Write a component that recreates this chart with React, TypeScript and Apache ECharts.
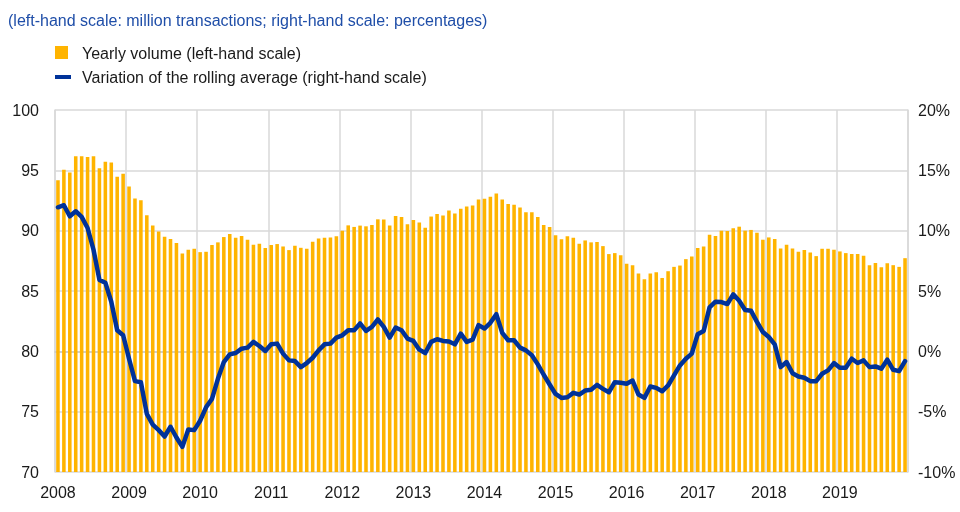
import React, { useEffect, useRef } from "react";
import * as echarts from "echarts";

const years = ["2008", "2009", "2010", "2011", "2012", "2013", "2014", "2015", "2016", "2017", "2018", "2019"];
const months = ["01", "02", "03", "04", "05", "06", "07", "08", "09", "10", "11", "12"];

// Yearly volume (left-hand scale, million transactions), monthly observations
const vol2008 = [94.17, 95.05, 94.83, 96.17, 96.17, 96.1, 96.17, 95.17, 95.72, 95.64, 94.47, 94.72];
const vol2009 = [93.67, 92.67, 92.53, 91.28, 90.42, 89.94, 89.5, 89.3, 88.97, 88.11, 88.42, 88.5];
const vol2010 = [88.22, 88.25, 88.81, 89.03, 89.47, 89.72, 89.42, 89.56, 89.25, 88.83, 88.92, 88.56];
const vol2011 = [88.81, 88.89, 88.69, 88.39, 88.75, 88.58, 88.5, 89.08, 89.36, 89.42, 89.44, 89.53];
const vol2012 = [90.0, 90.44, 90.31, 90.42, 90.36, 90.47, 90.94, 90.92, 90.42, 91.22, 91.14, 90.53];
const vol2013 = [90.89, 90.67, 90.25, 91.17, 91.39, 91.25, 91.67, 91.42, 91.81, 92.0, 92.08, 92.58];
const vol2014 = [92.64, 92.81, 93.08, 92.58, 92.22, 92.14, 91.92, 91.53, 91.53, 91.14, 90.47, 90.31];
const vol2015 = [89.61, 89.28, 89.53, 89.42, 88.92, 89.19, 89.03, 89.06, 88.72, 88.06, 88.14, 87.97];
const vol2016 = [87.25, 87.14, 86.44, 85.97, 86.44, 86.56, 86.08, 86.64, 87.0, 87.11, 87.64, 87.86];
const vol2017 = [88.56, 88.69, 89.67, 89.56, 90.0, 89.97, 90.19, 90.33, 90.0, 90.06, 89.83, 89.25];
const vol2018 = [89.44, 89.31, 88.53, 88.83, 88.53, 88.25, 88.39, 88.19, 87.89, 88.5, 88.5, 88.42];
const vol2019 = [88.28, 88.14, 88.06, 88.06, 87.92, 87.14, 87.33, 86.97, 87.31, 87.14, 87.0, 87.72];

// Variation of the rolling average (right-hand scale, percentages)
const var2008 = [11.94, 12.11, 11.19, 11.61, 11.14, 10.22, 8.42, 5.92, 5.69, 4.11, 1.75, 1.33];
const var2009 = [-0.61, -2.47, -2.56, -5.19, -6.08, -6.53, -7.06, -6.25, -7.14, -7.92, -6.47, -6.53];
const var2010 = [-5.75, -4.64, -3.94, -2.28, -0.89, -0.25, -0.14, 0.22, 0.31, 0.78, 0.44, 0.03];
const var2011 = [0.58, 0.64, -0.19, -0.75, -0.81, -1.31, -0.97, -0.53, 0.08, 0.58, 0.64, 1.14];
const var2012 = [1.33, 1.75, 1.75, 2.31, 1.69, 2.03, 2.64, 2.03, 1.14, 1.97, 1.75, 1.06];
const var2013 = [0.86, 0.14, -0.14, 0.78, 1.0, 0.86, 0.81, 0.58, 1.47, 0.78, 0.97, 2.17];
const var2014 = [1.89, 2.36, 3.08, 1.53, 0.92, 0.92, 0.31, 0.08, -0.33, -1.08, -1.94, -2.75];
const var2015 = [-3.53, -3.86, -3.81, -3.44, -3.58, -3.25, -3.19, -2.78, -3.11, -3.39, -2.56, -2.61];
const var2016 = [-2.69, -2.42, -3.58, -3.86, -2.92, -3.03, -3.31, -2.83, -2.0, -1.17, -0.61, -0.19];
const var2017 = [1.42, 1.69, 3.64, 4.11, 4.08, 3.92, 4.72, 4.19, 3.42, 3.36, 2.44, 1.6];
const var2018 = [1.19, 0.58, -1.31, -0.89, -1.81, -2.08, -2.19, -2.47, -2.47, -1.86, -1.58, -0.97];
const var2019 = [-1.36, -1.36, -0.61, -0.97, -0.75, -1.31, -1.25, -1.44, -0.69, -1.53, -1.64, -0.81];

const leftTicks = { min: 70, max: 100, interval: 5 };
const rightTicks = { min: -10, max: 20, interval: 5 };

const subtitle = "(left-hand scale: million transactions; right-hand scale: percentages)";
const barName = "Yearly volume (left-hand scale)";
const lineName = "Variation of the rolling average (right-hand scale)";

const categories = years.flatMap((y) => months.map((m) => `${y}-${m}`));
const volume = [
  ...vol2008, ...vol2009, ...vol2010, ...vol2011, ...vol2012, ...vol2013,
  ...vol2014, ...vol2015, ...vol2016, ...vol2017, ...vol2018, ...vol2019,
];
const variation = [
  ...var2008, ...var2009, ...var2010, ...var2011, ...var2012, ...var2013,
  ...var2014, ...var2015, ...var2016, ...var2017, ...var2018, ...var2019,
];

const FONT = "'Liberation Sans', Arial, sans-serif";
const YELLOW = "#FFB400";
const BLUE = "#003299";
const GRID = "#d9d9d9";
const TEXT = "#1a1a1a";

export default function App() {
  const ref = useRef<HTMLDivElement>(null);
  useEffect(() => {
    if (!ref.current) return;
    const chart = echarts.init(ref.current, undefined, { renderer: "svg" });
    chart.setOption({
      animation: false,
      textStyle: { fontFamily: FONT },
      grid: { left: 55, right: 52, top: 110, bottom: 40, containLabel: false },
      graphic: [
        {
          type: "text",
          x: 8,
          y: 20,
          style: { text: subtitle, fill: "#1f4ea8", font: `16px ${FONT}`, verticalAlign: "middle" },
        },
        { type: "rect", shape: { x: 55, y: 46, width: 13, height: 13 }, style: { fill: YELLOW } },
        {
          type: "text",
          x: 82,
          y: 53,
          style: { text: barName, fill: TEXT, font: `16px ${FONT}`, verticalAlign: "middle" },
        },
        { type: "rect", shape: { x: 55, y: 75, width: 16, height: 4 }, style: { fill: BLUE } },
        {
          type: "text",
          x: 82,
          y: 77,
          style: { text: lineName, fill: TEXT, font: `16px ${FONT}`, verticalAlign: "middle" },
        },
      ],
      xAxis: {
        type: "category",
        data: categories,
        boundaryGap: true,
        axisLine: { show: true, lineStyle: { color: "#c8c8c8", width: 1.5 } },
        axisTick: { show: false },
        axisLabel: {
          interval: 11,
          formatter: (v: string) => v.slice(0, 4),
          color: TEXT,
          fontSize: 16,
          fontFamily: FONT,
          margin: 12,
        },
        splitLine: {
          show: true,
          interval: (i: number) => i % 12 === 0,
          lineStyle: { color: GRID, width: 1.5 },
        },
      },
      yAxis: [
        {
          type: "value",
          ...leftTicks,
          axisLine: { show: true, lineStyle: { color: GRID, width: 1.5 } },
          axisTick: { show: false },
          axisLabel: { color: TEXT, fontSize: 16, fontFamily: FONT, margin: 16 },
          splitLine: { show: true, lineStyle: { color: GRID, width: 1.5 } },
        },
        {
          type: "value",
          ...rightTicks,
          position: "right",
          axisLine: { show: true, lineStyle: { color: GRID, width: 1.5 } },
          axisTick: { show: false },
          axisLabel: {
            color: TEXT,
            fontSize: 16,
            fontFamily: FONT,
            margin: 10,
            formatter: "{value}%",
          },
          splitLine: { show: false },
        },
      ],
      series: [
        {
          name: barName,
          type: "bar",
          data: volume,
          yAxisIndex: 0,
          barCategoryGap: "40%",
          itemStyle: { color: YELLOW },
        },
        {
          name: lineName,
          type: "line",
          data: variation,
          yAxisIndex: 1,
          showSymbol: false,
          symbol: "none",
          lineStyle: { color: BLUE, width: 4.5, join: "round", cap: "round" },
          z: 5,
        },
      ],
    });
    return () => chart.dispose();
  }, []);
  return (
    <div
      ref={ref}
      style={{ position: "fixed", left: 0, top: 0, width: 960, height: 512 }}
    />
  );
}
